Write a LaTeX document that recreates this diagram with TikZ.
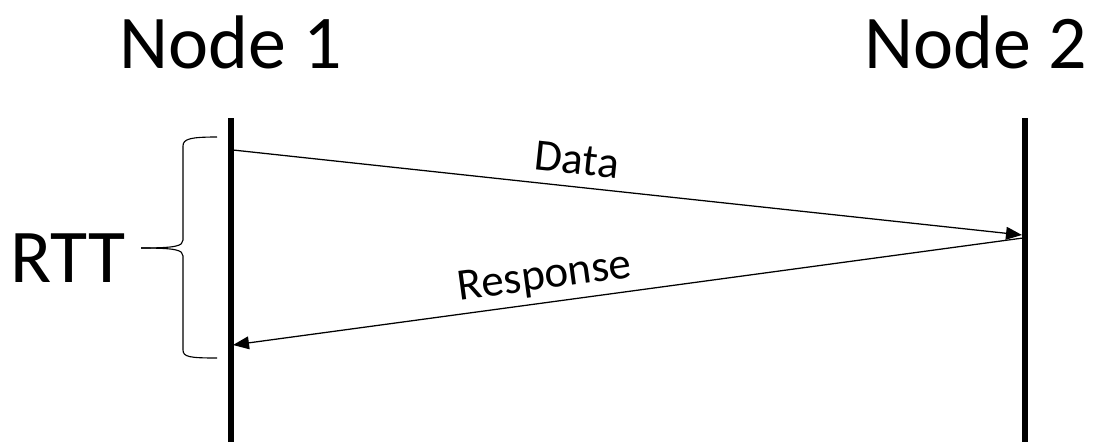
\documentclass[tikz,border=0pt]{standalone}
\usepackage{fontspec}
\setmainfont{Carlito}
\usetikzlibrary{arrows.meta,positioning,calc}
\tikzset{
  title/.style={font=\fontsize{54}{60}\selectfont, inner sep=0pt},
  msg/.style={font=\fontsize{32}{36}\selectfont, inner sep=0pt},
  lifeline/.style={line width=4.2pt},
  line/.style={-{Triangle[length=0.4cm, width=0.32cm]}, line width=0.9pt},
  bracket/.style={line width=0.8pt}
}
\begin{document}
\begin{tikzpicture}[x=0.025cm, y=-0.025cm]
    \useasboundingbox (0,0) rectangle (1094,442);
    \node[title] (n1) at (231,42) {Node 1};
    \node[title] (n2) at (976,42) {Node 2};
    \coordinate (n1top) at (231,118);
    \coordinate (n1bot) at (231,442);
    \coordinate (n2top) at (1025,118);
    \coordinate (n2bot) at (1025,442);
    \draw[lifeline] (n1top) -- (n1bot);
    \draw[lifeline] (n2top) -- (n2bot);
    \coordinate (dsrc) at (233,150);
    \coordinate (ddst) at (1022,235);
    \coordinate (rsrc) at (1023,238);
    \coordinate (rdst) at (233,345);
    \draw[line] (dsrc) -- (ddst);
    \draw[line] (rsrc) -- (rdst);
    \node[msg, rotate=-6.1] (data) at (577,160) {Data};
    \node[msg, rotate=7.7] (resp) at (545,278) {Response};
    % brace for the round trip
    \coordinate (btop) at (217,137);
    \coordinate (bbot) at (217,358);
    \coordinate (btip) at (141,248);
    \draw[bracket] (btop) .. controls (190,137) and (183,139) .. (183,146) -- (183,240)
      .. controls (183,246) and (176,248) .. (btip);
    \draw[bracket] (btip) .. controls (176,248) and (183,250) .. (183,256) -- (183,350)
      .. controls (183,357) and (190,358) .. (bbot);
    \node[title, anchor=east] (rtt) at (126,258) {RTT};
\end{tikzpicture}
\end{document}
